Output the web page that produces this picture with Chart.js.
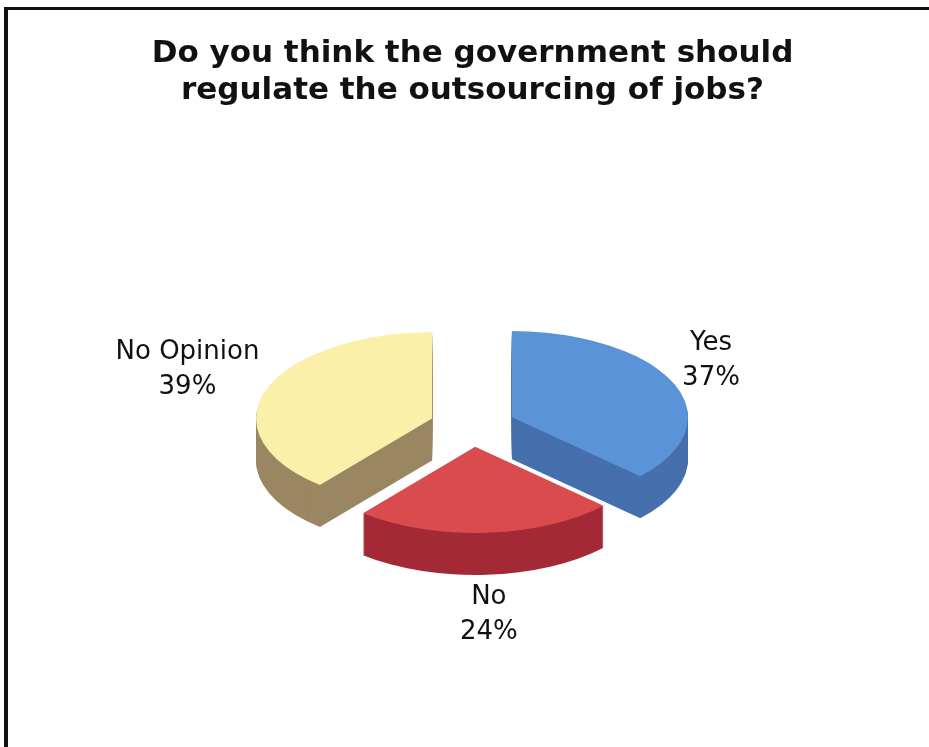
<!DOCTYPE html>
<html>
<head>
<meta charset="utf-8">
<title>Outsourcing poll</title>
<script src="https://cdn.jsdelivr.net/npm/chart.js@4.4.1/dist/chart.umd.min.js"></script>
<style>
  html, body { margin: 0; padding: 0; background: #fff; }
  #wrap { position: relative; width: 929px; height: 747px; overflow: hidden; }
  #frame {
    position: absolute; left: 4px; top: 7px; right: -20px; bottom: -20px;
    border-top: 3px solid #111; border-left: 4px solid #111;
  }
  canvas { position: absolute; left: 0; top: 0; }
</style>
</head>
<body>
<div id="wrap">
  <div id="frame"></div>
  <canvas id="pollChart" width="929" height="747"></canvas>
</div>
<script>
// ---------------- POLL DATA ----------------
const answers = ["Yes", "No", "No Opinion"];
const shares = [37, 24, 39];
const titleLines = ["Do you think the government should", "regulate the outsourcing of jobs?"];

// ---------------- 3D LOOK ----------------
const TILT = 0.49;    // vertical squash of the pie top
const DEPTH = 42;     // thickness of the pie
const sideColors = ["#4670ad", "#a32a36", "#9a8762"];

function sliceGeom(arc) {
    const p = arc.getProps(["x", "y", "startAngle", "endAngle", "outerRadius"], true);
    const mid = (p.startAngle + p.endAngle) / 2;
    const off = arc.options.offset || 0;
    return {
        p: p,
        mid: mid,
        ox: p.x + Math.cos(mid) * off,
        oy: p.y + Math.sin(mid) * off * TILT
    };
}

function wedge(ctx, x, y, p) {
    ctx.save();
    ctx.translate(x, y);
    ctx.scale(1, TILT);
    ctx.beginPath();
    ctx.moveTo(0, 0);
    ctx.arc(0, 0, p.outerRadius, p.startAngle, p.endAngle);
    ctx.closePath();
    ctx.fill();
    ctx.restore();
}

const pie3d = {
    id: "pie3d",
    beforeDatasetDraw(chart, args) {
        const ctx = chart.ctx;
        const arcs = args.meta.data;
        // slices further back are painted first
        const order = arcs.map((a, i) => i).sort((a, b) =>
            Math.sin(sliceGeom(arcs[a]).mid) - Math.sin(sliceGeom(arcs[b]).mid));
        order.forEach(i => {
            const g = sliceGeom(arcs[i]);
            ctx.fillStyle = sideColors[i];
            for (let d = DEPTH; d > 0; d--) wedge(ctx, g.ox, g.oy + d, g.p);
            ctx.fillStyle = arcs[i].options.backgroundColor;
            wedge(ctx, g.ox, g.oy, g.p);
        });
        return false;
    },
    afterDatasetsDraw(chart) {
        const ctx = chart.ctx;
        const arcs = chart.getDatasetMeta(0).data;
        const lineH = 35;
        ctx.save();
        ctx.font = '26px "DejaVu Sans"';
        ctx.fillStyle = "#111";
        ctx.textAlign = "center";
        ctx.textBaseline = "middle";
        arcs.forEach((arc, i) => {
            const g = sliceGeom(arc);
            const lines = [answers[i], shares[i] + "%"];
            const halfW = Math.max(...lines.map(t => ctx.measureText(t).width)) / 2;
            const dx = Math.cos(g.mid), dy = Math.sin(g.mid);
            const cx = g.ox + dx * (g.p.outerRadius + 12 + halfW);
            const cy = g.oy + dy * (g.p.outerRadius * TILT + 22 + lineH)
                + Math.max(0, dy) * DEPTH * 0.6;
            ctx.fillText(lines[0], cx, cy - lineH / 2);
            ctx.fillText(lines[1], cx, cy + lineH / 2);
        });
        ctx.restore();
    }
};

// ===================== OUTSOURCING POLL (3D PIE) =====================
new Chart(document.getElementById("pollChart"), {
    type: "pie",
    data: {
        labels: answers,
        datasets: [{
            data: shares,
            backgroundColor: ["#5b93d8", "#da4b4d", "#fbf0a9"],
            borderWidth: 0,
            offset: 43,
            radius: 176
        }]
    },
    options: {
        responsive: false,
        animation: false,
        layout: { padding: { left: 16, right: 0, top: 0, bottom: 5 } },
        plugins: {
            legend: { display: false },
            tooltip: { enabled: false },
            title: {
                display: true,
                text: titleLines,
                color: "#111",
                font: { family: '"DejaVu Sans"', size: 31, weight: "bold", lineHeight: 1.2 },
                padding: { top: 35, bottom: 0 }
            }
        }
    },
    plugins: [pie3d]
});
</script>
</body>
</html>
